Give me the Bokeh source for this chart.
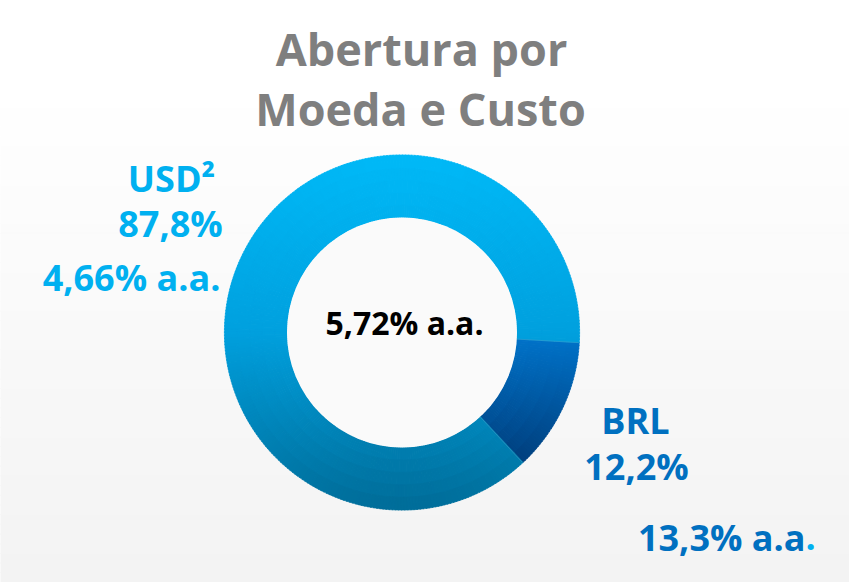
import math
import numpy as np
from bokeh.plotting import figure
from bokeh.models import Range1d, ColumnDataSource
from bokeh.core.properties import value
from bokeh.embed import file_html
from bokeh.resources import INLINE

# ---- data ----
categories = ["USD²", "BRL"]
shares = [87.8, 12.2]
shares_txt = ["87,8%", "12,2%"]
rates_txt = ["4,66% a.a.", "13,3% a.a."]
total_rate = "5,72% a.a."
title_lines = ["Abertura por", "Moeda e Custo"]

# ---- layout / style ----
W, H = 849, 582
FONT = "Open Sans"
cx, cy = 401.5, H - 332       # donut centre (data units = px)
r_out, r_in = 177, 115
start_deg = -47.2             # BRL starts here, slices run anticlockwise
usd_stops = [(0.0, (0, 185, 247)), (0.5, (0, 160, 222)), (1.0, (0, 108, 152))]
brl_stops = [(0.0, (0, 114, 200)), (1.0, (0, 62, 124))]
LIGHT = "#00B0F0"
DARK = "#0070C0"
BASE_CORR = 0.37              # baseline correction (fraction of font size)


def grad(stops, t):
    t = min(max(t, 0.0), 1.0)
    for (t0, c0), (t1, c1) in zip(stops[:-1], stops[1:]):
        if t <= t1:
            f = 0 if t1 == t0 else (t - t0) / (t1 - t0)
            return "#%02x%02x%02x" % tuple(int(round(a + (b - a) * f)) for a, b in zip(c0, c1))
    return "#%02x%02x%02x" % stops[-1][1]


p = figure(width=W, height=H, x_range=Range1d(0, W), y_range=Range1d(0, H),
           output_backend="svg", toolbar_location=None, min_border=0)
p.axis.visible = False
p.grid.visible = False
p.outline_line_color = None
p.background_fill_color = "white"
p.border_fill_color = "white"

# background vertical gradient (white at top -> light grey at bottom)
nb = 60
ys = np.linspace(0, H, nb + 1)
bg_cols = []
for i in range(nb):
    t = 1 - ys[i] / H      # 0 top ... 1 bottom
    g = int(round(255 - 12 * max(0.0, (t - 0.15) / 0.85)))
    bg_cols.append("#%02x%02x%02x" % (g, g, g))
p.quad(left=-10, right=W + 10, bottom=ys[:-1], top=ys[1:], fill_color=bg_cols,
       line_color=bg_cols, line_width=1)

# donut slices: order BRL first (starting at start_deg), then USD
order = [1, 0]
stops_by = {0: usd_stops, 1: brl_stops}
a0 = math.radians(start_deg)
nring = 5
for idx in order:
    span = 2 * math.pi * shares[idx] / sum(shares)
    a1 = a0 + span
    nseg = max(8, int(math.degrees(span) / 1.0))
    angs = np.linspace(a0, a1, nseg + 1)
    rings = np.linspace(r_in, r_out, nring + 1)
    samp = np.linspace(a0, a1, 400)
    yy = np.concatenate([cy + r_out * np.sin(samp), cy + r_in * np.sin(samp)])
    ytop, ybot = yy.max(), yy.min()
    d = dict(s=[], e=[], ri=[], ro=[], c=[])
    for j in range(nseg):
        am = 0.5 * (angs[j] + angs[j + 1])
        for k in range(nring):
            rm = 0.5 * (rings[k] + rings[k + 1])
            ym = cy + rm * math.sin(am)
            t = (ytop - ym) / (ytop - ybot)
            d["s"].append(angs[j]); d["e"].append(angs[j + 1] + 0.004)
            d["ri"].append(rings[k]); d["ro"].append(rings[k + 1] + 0.6)
            d["c"].append(grad(stops_by[idx], t))
    src = ColumnDataSource(d)
    p.annular_wedge(x=cx, y=cy, inner_radius="ri", outer_radius="ro", start_angle="s",
                    end_angle="e", fill_color="c", line_color="c", line_width=0.6, source=src)
    a0 = a1

# inner hole (background coloured)
p.circle(x=cx, y=cy, radius=r_in, fill_color="#fafafa", line_color=None)

# thin separators
sep_angles = [math.radians(start_deg), math.radians(start_deg) + 2 * math.pi * shares[1] / sum(shares)]
for a in sep_angles:
    p.segment(x0=cx + r_in * math.cos(a), y0=cy + r_in * math.sin(a),
              x1=cx + r_out * math.cos(a), y1=cy + r_out * math.sin(a),
              line_color="#4aa0c8", line_width=0.8, line_alpha=0.6)


def txt(x, y, s, size, color, align="center"):
    p.text(x=[x], y=[H - y + BASE_CORR * size], text=[s], text_font=value(FONT),
           text_font_style="bold", text_font_size=f"{size}px", text_color=color,
           text_align=align, text_baseline="alphabetic")


# title
txt(421, 65, title_lines[0], 45, "#7f7f7f")
txt(420, 125, title_lines[1], 45, "#7f7f7f")

# centre
txt(404, 334, total_rate, 32, "black")

# USD labels
txt(171, 191, categories[0], 36, LIGHT)
txt(170, 236, shares_txt[0], 36, LIGHT)
txt(220, 290, rates_txt[0], 36, LIGHT, align="right")

# BRL labels
txt(635, 433, categories[1], 36, DARK)
txt(636, 479, shares_txt[1], 36, DARK)
txt(805, 550, rates_txt[1][:-1], 36, DARK, align="right")
txt(805, 550, rates_txt[1][-1], 36, LIGHT, align="left")

open("out.html", "w").write(file_html(p, INLINE))
